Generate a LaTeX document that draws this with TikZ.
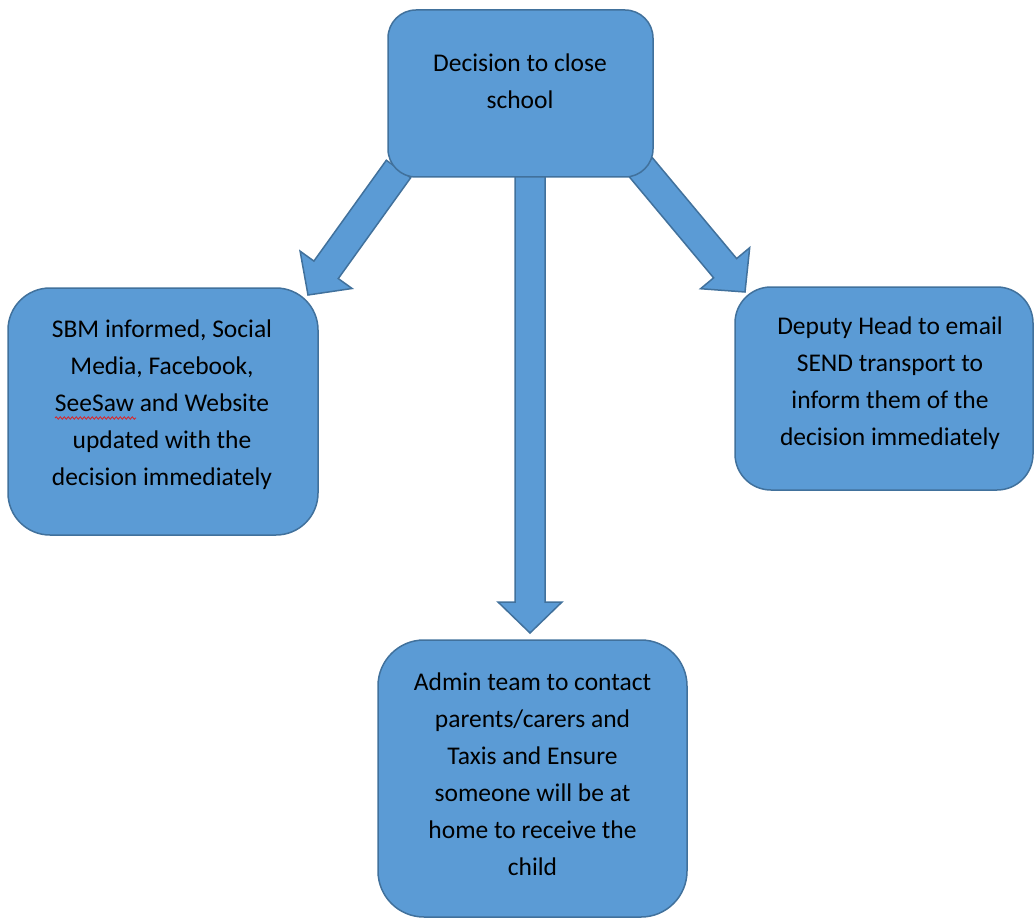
\documentclass[tikz,border=0pt]{standalone}
\usepackage{fontspec}
\setmainfont{Carlito}
\usetikzlibrary{calc,backgrounds,decorations.pathmorphing}
\definecolor{boxfill}{HTML}{5B9BD5}
\definecolor{boxline}{HTML}{41719C}
\definecolor{spellred}{HTML}{E02020}
\tikzset{
  box/.style={draw=boxline, fill=boxfill, line width=1.5pt, rectangle, inner sep=0pt},
  txt/.style={align=center, font=\fontsize{25.5}{37}\selectfont, text=black, inner sep=0pt},
  fat/.style={draw=boxline, fill=boxfill, line width=1.5pt, line join=miter},
  spell/.style={draw=spellred, line width=0.8pt, decorate, decoration={snake, amplitude=1.2pt, segment length=4pt}}
}
\newcommand\fatarrow[2]{%
  \coordinate (#1m) at ($(#2)!31pt!(#1)$);
  \draw[fat] ($(#1)!15pt!90:(#2)$) -- ($(#1m)!15pt!90:(#2)$) -- ($(#1m)!32pt!90:(#2)$) -- (#2)
    -- ($(#1m)!32pt!-90:(#2)$) -- ($(#1m)!15pt!-90:(#2)$) -- ($(#1)!15pt!-90:(#2)$) -- cycle;}
\begin{document}
\begin{tikzpicture}[x=1pt,y=-1pt]
\useasboundingbox (0,0) rectangle (1035,920);
% boxes
\node[box, minimum width=265pt, minimum height=167pt, rounded corners=28pt] (top) at (520.5,93.5) {};
\node[box, minimum width=310pt, minimum height=247pt, rounded corners=42pt] (left) at (163,411.5) {};
\node[box, minimum width=298pt, minimum height=203pt, rounded corners=36pt] (right) at (884,388.5) {};
\node[box, minimum width=309pt, minimum height=277pt, rounded corners=46pt] (bottom) at (532.5,778.5) {};
% texts
\node[txt] (toptext) at (520,81.5) {Decision to close\\school};
\node[txt] (lefttext) at (162,404.5) {SBM informed, Social\\Media, Facebook,\\SeeSaw and Website\\updated with the\\decision immediately};
\node[txt] (righttext) at (890,383) {Deputy Head to email\\SEND transport to\\inform them of the\\decision immediately};
\node[txt] (bottomtext) at (532.5,774.5) {Admin team to contact\\parents/carers and\\Taxis and Ensure\\someone will be at\\home to receive the\\child};
% spell-check underline
\coordinate (sp1) at (55,418);
\coordinate (sp2) at (136,418);
\draw[spell] (sp1) -- (sp2);
% arrows behind boxes
\begin{pgfonlayer}{background}
  \coordinate (a) at (398.5,169);
  \coordinate (b) at (308,295);
  \coordinate (c) at (530,170);
  \coordinate (d) at (530,633);
  \coordinate (e) at (641,167.5);
  \coordinate (f) at (745,292);
  \fatarrow{a}{b}
  \fatarrow{c}{d}
  \fatarrow{e}{f}
\end{pgfonlayer}
\end{tikzpicture}
\end{document}
